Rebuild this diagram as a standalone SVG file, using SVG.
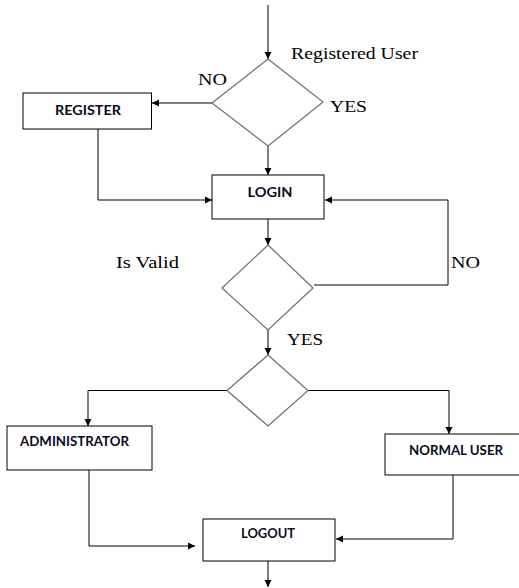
<svg xmlns="http://www.w3.org/2000/svg" width="519" height="588" viewBox="0 0 519 588">
<style>
.box{fill:#fff;stroke:#000;stroke-width:1}
.dia{fill:#fff;stroke:#6e6e6e;stroke-width:1.2}
.ln{fill:none;stroke:#000;stroke-width:1}
.lbl{font-family:"Lato","Liberation Sans",sans-serif;font-weight:bold;font-size:13.5px;fill:#0a0a1e}
.txt{font-family:"Liberation Serif",serif;font-size:17px;fill:#000}
</style>
<defs>
<marker id="ah" markerWidth="8" markerHeight="8" refX="7" refY="4" orient="auto" markerUnits="userSpaceOnUse">
<path d="M0,0.5 L7,4 L0,7.5 Z" fill="#000"/>
</marker>
</defs>
<rect width="519" height="588" fill="#fff"/>
<g id="connectors">
<path class="ln" d="M268,5 V59" marker-end="url(#ah)"/>
<path class="ln" d="M212,103 H152" marker-end="url(#ah)"/>
<path class="ln" d="M268,146 V175" marker-end="url(#ah)"/>
<path class="ln" d="M98,129 V200 H212" marker-end="url(#ah)"/>
<path class="ln" d="M314,285 H448 V200 H325" marker-end="url(#ah)"/>
<path class="ln" d="M268,219 V245" marker-end="url(#ah)"/>
<path class="ln" d="M268,330 V355" marker-end="url(#ah)"/>
<path class="ln" d="M227,390.5 H88 V426" marker-end="url(#ah)"/>
<path class="ln" d="M308,390.5 H449 V434" marker-end="url(#ah)"/>
<path class="ln" d="M89,470 V546 H195" marker-end="url(#ah)"/>
<path class="ln" d="M453,475 V539 H336" marker-end="url(#ah)"/>
<path class="ln" d="M268,561 V587" marker-end="url(#ah)"/>
</g>
<g id="decision1">
<polygon class="dia" points="268,59 323,102 268,146 212,103"/>
</g>
<g id="register">
<rect class="box" x="23" y="93" width="128.5" height="36"/>
<text class="lbl" x="88" y="115" text-anchor="middle" textLength="66" lengthAdjust="spacingAndGlyphs">REGISTER</text>
</g>
<g id="login">
<rect class="box" x="212" y="175" width="112" height="44"/>
<text class="lbl" x="270" y="196.5" text-anchor="middle" textLength="45" lengthAdjust="spacingAndGlyphs">LOGIN</text>
</g>
<g id="decision2">
<polygon class="dia" points="268,245 313,288 268,330 222,288"/>
</g>
<g id="decision3">
<polygon class="dia" points="268,355 308,390.5 268,426 227,390.5"/>
</g>
<g id="administrator">
<rect class="box" x="7" y="426" width="145" height="44"/>
<text class="lbl" x="20" y="445.5" textLength="109" lengthAdjust="spacingAndGlyphs">ADMINISTRATOR</text>
</g>
<g id="normaluser">
<rect class="box" x="385" y="434" width="140" height="41"/>
<text class="lbl" x="409" y="455" textLength="94" lengthAdjust="spacingAndGlyphs">NORMAL USER</text>
</g>
<g id="logout">
<rect class="box" x="203" y="519" width="132" height="42"/>
<text class="lbl" x="241" y="537.5" textLength="54" lengthAdjust="spacingAndGlyphs">LOGOUT</text>
</g>
<g id="labels">
<text class="txt" x="291" y="59" textLength="127" lengthAdjust="spacingAndGlyphs">Registered User</text>
<text class="txt" x="198" y="85" textLength="29" lengthAdjust="spacingAndGlyphs">NO</text>
<text class="txt" x="330" y="112" textLength="37" lengthAdjust="spacingAndGlyphs">YES</text>
<text class="txt" x="116" y="268" textLength="63" lengthAdjust="spacingAndGlyphs">Is Valid</text>
<text class="txt" x="451" y="268" textLength="29" lengthAdjust="spacingAndGlyphs">NO</text>
<text class="txt" x="287" y="345" textLength="36" lengthAdjust="spacingAndGlyphs">YES</text>
</g>
</svg>
